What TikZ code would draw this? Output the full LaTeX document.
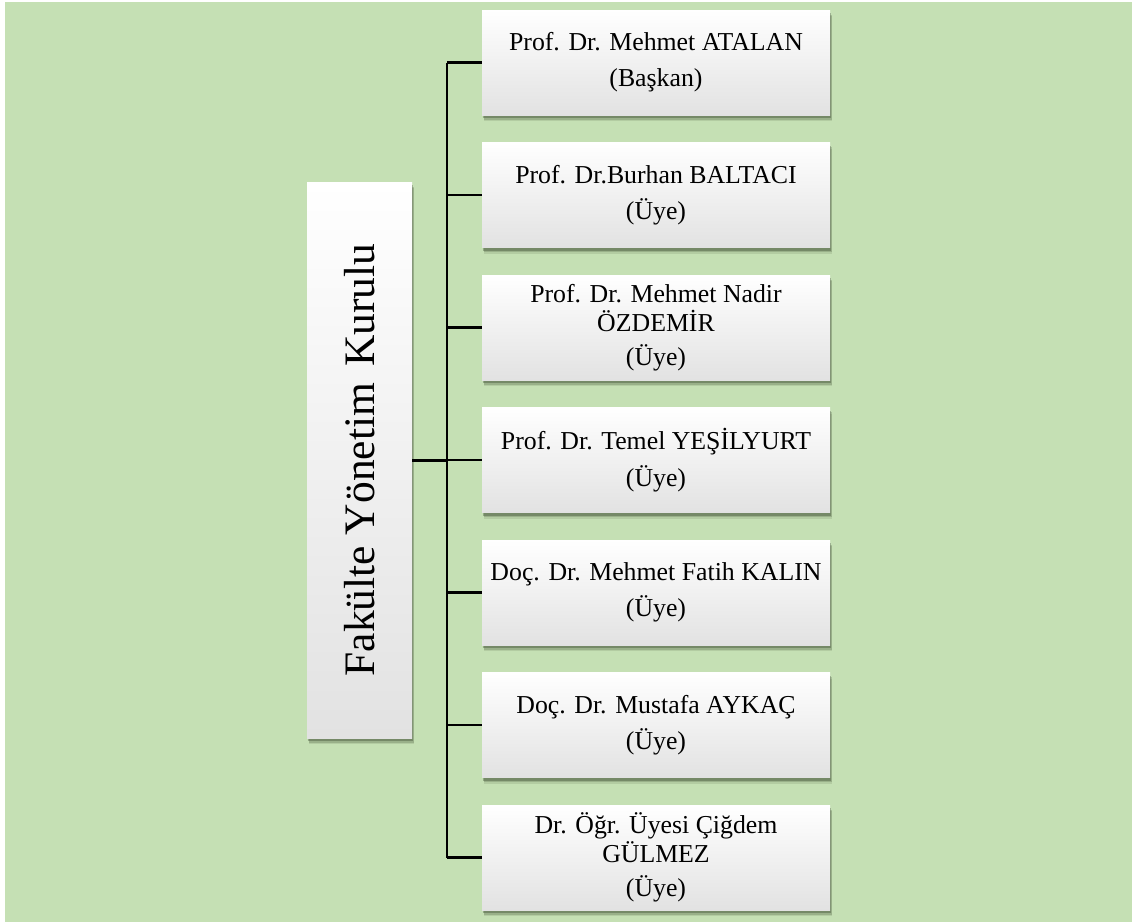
\documentclass[tikz,border=0pt]{standalone}
\usepackage{fontspec}
\setmainfont{Liberation Serif}
\usetikzlibrary{shadows}
\definecolor{bggreen}{RGB}{197,224,180}
\definecolor{boxgrey}{RGB}{226,226,226}
\definecolor{shadowc}{RGB}{50,65,40}
\tikzset{
  boxbase/.style={shading=axis, top color=white, bottom color=boxgrey, inner sep=0pt,
    general shadow={shadow xshift=1.5pt, shadow yshift=-6pt, fill=shadowc, opacity=0.12},
    general shadow={shadow xshift=1.5pt, shadow yshift=-4.5pt, fill=shadowc, opacity=0.2},
    general shadow={shadow xshift=1pt, shadow yshift=-3pt, fill=shadowc, opacity=0.35}},
  member/.style={boxbase, minimum width=348pt, minimum height=105pt, align=center,
    font=\fontsize{25.8}{29.3}\selectfont},
  headbox/.style={boxbase, minimum width=105pt, minimum height=556pt,
    font=\fontsize{43.5}{50}\selectfont},
  conn/.style={line width=2.2pt, black},
  mainconn/.style={line width=3pt, black}
}
\begin{document}
\begin{tikzpicture}[x=1pt, y=-1pt]
\useasboundingbox (0,0) rectangle (1134,922);
\fill[bggreen] (5,2) rectangle (1132,922);
\node[headbox] (head) at (359.5,460) {\rotatebox{90}{Fakülte Yönetim\hspace{0.12em} Kurulu}};
\node[member] (m1) at (656,62.5) {Prof. Dr. Mehmet ATALAN\\[7pt](Başkan)};
\node[member] (m2) at (656,195) {Prof. Dr.Burhan BALTACI\\[7pt](Üye)};
\node[member] (m3) at (656,327.5) {Prof. Dr. Mehmet Nadir\\ÖZDEMİR\\[5pt](Üye)};
\node[member] (m4) at (656,460) {Prof. Dr. Temel YEŞİLYURT\\[7pt](Üye)};
\node[member] (m5) at (656,592.5) {Doç. Dr. Mehmet Fatih KALIN\\[7pt](Üye)};
\node[member] (m6) at (656,725) {Doç. Dr. Mustafa AYKAÇ\\[7pt](Üye)};
\node[member] (m7) at (656,857.5) {Dr. Öğr. Üyesi Çiğdem\\GÜLMEZ\\[5pt](Üye)};
\coordinate (bt) at (447,62.5);
\coordinate (bb) at (447,857.5);
\draw[conn] (bt) -- (bb);
\draw[mainconn] (head.east) -- (head.east -| bt);
\foreach \i in {1,...,7}{
  \draw[conn] (m\i.west -| bt) -- (m\i.west);
}
\end{tikzpicture}
\end{document}
